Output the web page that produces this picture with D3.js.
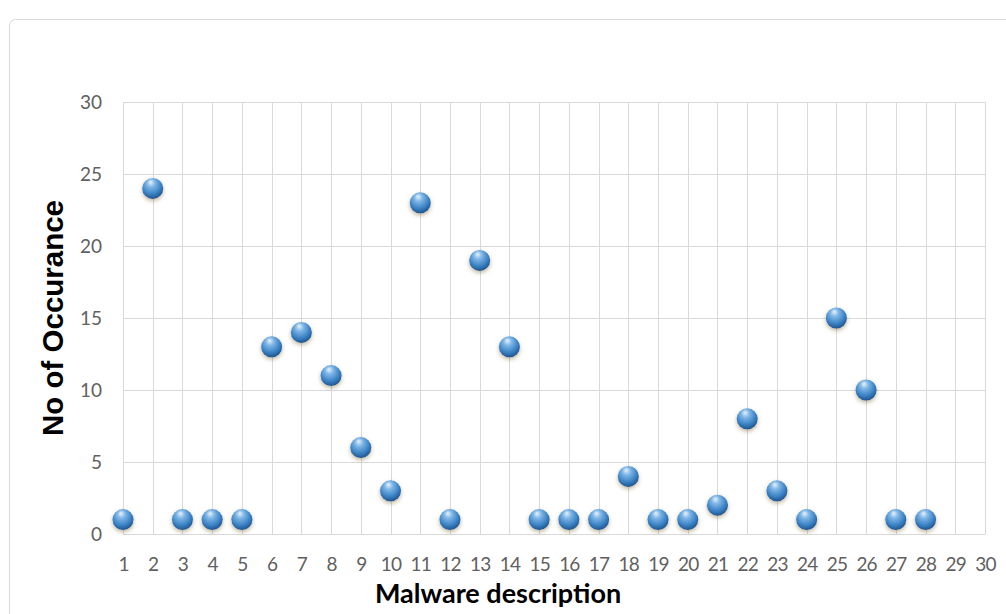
<!DOCTYPE html>
<html>
<head>
<meta charset="utf-8">
<script src="https://cdn.jsdelivr.net/npm/d3@7"></script>
<style>
  body { margin: 0; background: #fff; }
  .tick text { font-family: Lato, "Open Sans", sans-serif; font-size: 19px; fill: #606060; }
</style>
</head>
<body>
<div id="chart"></div>
<script>
// malware description index and number of occurrences
var categories = d3.range(1, 29);
var occurrences = [1, 24, 1, 1, 1, 13, 14, 11, 6, 3, 23, 1, 19, 13, 1, 1, 1, 4, 1, 1, 2, 8, 3, 1, 15, 10, 1, 1];
var xTicks = d3.range(1, 31);
var yTicks = [0, 5, 10, 15, 20, 25, 30];

var svgWidth = 1006;
var svgHeight = 614;
var margin = { top: 102, right: 21, bottom: 80, left: 123 };
var width = svgWidth - margin.left - margin.right;
var height = svgHeight - margin.top - margin.bottom;

var svg = d3.select("#chart").append("svg")
    .attr("width", svgWidth)
    .attr("height", svgHeight);

// sphere gradient + shadow
var defs = svg.append("defs");
var grad = defs.append("radialGradient")
    .attr("id", "ball")
    .attr("cx", "45%").attr("cy", "35%").attr("r", "65%")
    .attr("fx", "40%").attr("fy", "20%");
grad.append("stop").attr("offset", "0%").attr("stop-color", "#e8f3fc");
grad.append("stop").attr("offset", "30%").attr("stop-color", "#7fb6e6");
grad.append("stop").attr("offset", "70%").attr("stop-color", "#3d84c6");
grad.append("stop").attr("offset", "100%").attr("stop-color", "#1d5590");

var shadow = defs.append("filter").attr("id", "shadow")
    .attr("x", "-50%").attr("y", "-50%").attr("width", "200%").attr("height", "200%");
shadow.append("feDropShadow")
    .attr("dx", 0).attr("dy", 2).attr("stdDeviation", 2)
    .attr("flood-color", "#6a5a20").attr("flood-opacity", 0.45);

// outer chart border
svg.append("rect")
    .attr("x", 9.5).attr("y", 19.5)
    .attr("width", 1010).attr("height", 620)
    .attr("rx", 6)
    .attr("fill", "none")
    .attr("stroke", "#d9d9d9");

var chartGroup = svg.append("g")
    .attr("transform", `translate(${margin.left}, ${margin.top})`);

var xScale = d3.scaleLinear().domain([1, 30]).range([0, width]);
var yScale = d3.scaleLinear().domain([0, 30]).range([height, 0]);

// gridlines
chartGroup.append("g")
    .selectAll("line.h")
    .data(yTicks)
    .enter().append("line")
    .attr("x1", 0).attr("x2", width)
    .attr("y1", d => Math.round(yScale(d)) + 0.5)
    .attr("y2", d => Math.round(yScale(d)) + 0.5)
    .attr("stroke", "#d9d9d9");

chartGroup.append("g")
    .selectAll("line.v")
    .data(xTicks)
    .enter().append("line")
    .attr("x1", d => Math.round(xScale(d)) + 0.5)
    .attr("x2", d => Math.round(xScale(d)) + 0.5)
    .attr("y1", 0).attr("y2", height)
    .attr("stroke", "#d9d9d9");

// axes (labels only)
var xAxis = chartGroup.append("g")
    .attr("transform", `translate(0, ${height})`)
    .call(d3.axisBottom(xScale).tickValues(xTicks).tickFormat(d3.format("d")).tickSize(0).tickPadding(24));
xAxis.select(".domain").attr("stroke", "#d9d9d9");
xAxis.selectAll(".tick text").attr("letter-spacing", -0.8);

var yAxis = chartGroup.append("g")
    .call(d3.axisLeft(yScale).tickValues(yTicks).tickSize(0).tickPadding(21));
yAxis.select(".domain").remove();

// points
chartGroup.append("g")
    .selectAll("circle")
    .data(occurrences)
    .enter().append("circle")
    .attr("cx", (d, i) => xScale(categories[i]))
    .attr("cy", d => yScale(d))
    .attr("r", 10.5)
    .attr("fill", "url(#ball)")
    .attr("filter", "url(#shadow)");

// axis titles
svg.append("text")
    .attr("x", 498)
    .attr("y", 603)
    .attr("text-anchor", "middle")
    .attr("font-family", "Lato, 'Open Sans', sans-serif")
    .attr("font-weight", "bold")
    .attr("font-size", 27)
    .attr("fill", "#000")
    .text("Malware description");

svg.append("text")
    .attr("transform", "translate(63, 318) rotate(-90)")
    .attr("text-anchor", "middle")
    .attr("font-family", "'Liberation Sans', Arial, sans-serif")
    .attr("font-weight", "bold")
    .attr("font-size", 29.5)
    .attr("fill", "#000")
    .text("No of Occurance");
</script>
</body>
</html>
